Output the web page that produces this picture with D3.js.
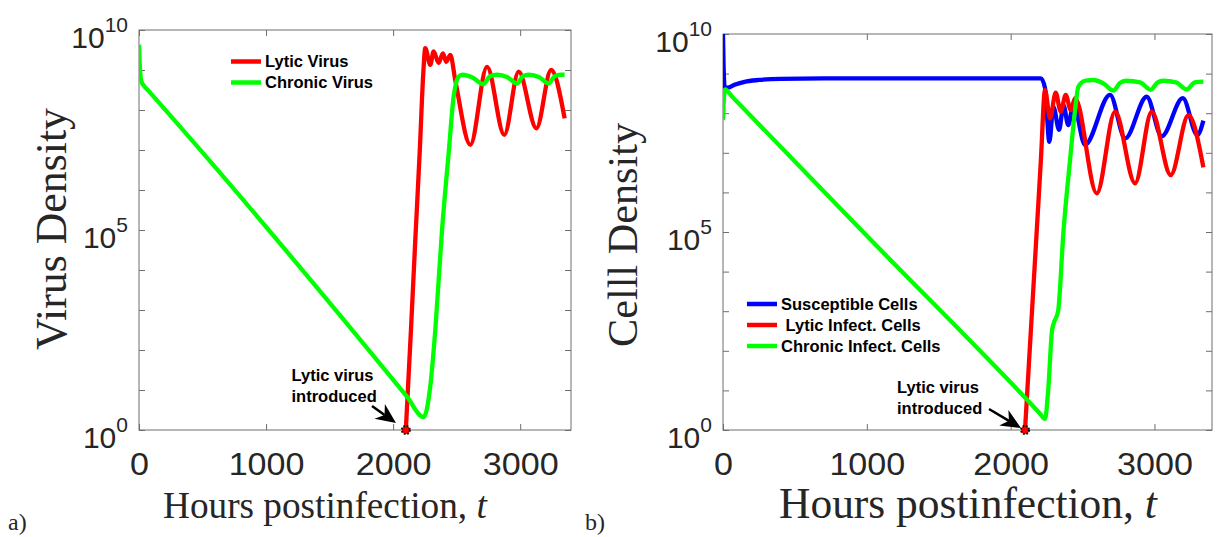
<!DOCTYPE html>
<html>
<head>
<meta charset="utf-8">
<script src="https://cdn.jsdelivr.net/npm/d3@7"></script>
<style>
  body { margin: 0; background: #fff; }
  svg { display: block; }
</style>
</head>
<body>
<svg id="chart" width="1221" height="537"></svg>
<script>
// ---------- data ----------
const xTicks = [0, 1000, 2000, 3000];
const yLabelExponents = [0, 5, 10];
const yDecades = d3.range(0, 11).map(e => Math.pow(10, e));
const introTime = 2100;

// Panel a) virus densities
const lyticVirusT = [2100, 2140, 2175, 2210, 2238, 2253, 2292, 2319, 2358, 2392, 2418, 2450, 2489, 2608, 2739, 2875, 2988, 3128, 3243, 3350];
const lyticVirusV = [1, 3.0e2, 6.0e4, 1.0e7, 9.0e8, 3.5e9, 1.35e9, 2.9e9, 1.5e9, 2.6e9, 1.6e9, 2.4e9, 5.6e8, 1.35e7, 1.2e9, 2.4e7, 9.1e8, 3.5e7, 1.0e9, 6.2e7];
const chronicVirusT = [0, 8, 20, 40, 75, 2109, 2240, 2292, 2332, 2385, 2437, 2476, 2515, 2545, 2620, 2712, 2760, 2818, 2900, 2975, 3020, 3067, 3150, 3224, 3270, 3320, 3350];
const chronicVirusV = [4.3e9, 1.0e9, 5.0e8, 4.0e8, 3.0e8, 6.8, 2.1, 12, 320, 1.0e5, 8.3e6, 2.1e8, 6.8e8, 7.6e8, 6.6e8, 4.4e8, 6.9e8, 7.6e8, 6.6e8, 4.6e8, 6.9e8, 7.6e8, 6.6e8, 4.6e8, 6.9e8, 7.6e8, 7.6e8];

// Panel b) cell densities
const susceptibleT = [0, 4, 12, 30, 80, 150, 250, 400, 700, 2210, 2239, 2269, 2297, 2337, 2367, 2401, 2436, 2517, 2691, 2796, 2946, 3050, 3197, 3298, 3340];
const susceptibleV = [1e10, 1.6e9, 4.5e8, 4.4e8, 5.2e8, 6.2e8, 6.9e8, 7.4e8, 7.6e8, 7.6e8, 4.3e8, 1.9e7, 1.45e8, 3.8e7, 1.6e8, 5.0e7, 1.7e8, 1.6e7, 2.9e8, 2.3e7, 2.6e8, 2.6e7, 2.4e8, 2.8e7, 6.5e7];
const lyticCellsT = [2100, 2140, 2175, 2210, 2239, 2274, 2313, 2348, 2383, 2418, 2448, 2599, 2726, 2865, 2981, 3113, 3236, 3340];
const lyticCellsV = [1, 3.0e2, 4.3e4, 6.3e6, 3.9e8, 7.4e7, 3.3e8, 1.1e8, 2.9e8, 1.2e8, 2.4e8, 9.5e5, 1.1e8, 1.7e6, 1.1e8, 2.75e6, 8.9e7, 4.3e6];
const chronicCellsT = [0, 5, 15, 60, 1000, 2200, 2239, 2260, 2288, 2300, 2330, 2367, 2413, 2448, 2471, 2517, 2575, 2650, 2714, 2760, 2802, 2900, 2974, 3020, 3062, 3150, 3224, 3280, 3340];
const chronicCellsV = [6.8e7, 2.0e8, 4.0e8, 2.7e8, 8.0e4, 2.7, 1.9, 9.0, 3.3e2, 5.0e2, 1.0e3, 1.0e5, 6.6e6, 1.2e8, 4.7e8, 6.6e8, 6.9e8, 5.5e8, 3.7e8, 5.8e8, 6.6e8, 6.0e8, 3.9e8, 5.9e8, 6.6e8, 6.0e8, 4.0e8, 6.0e8, 6.3e8];

// ---------- styles ----------
const SANS = "'Liberation Sans', Arial, Helvetica, sans-serif";
const SERIF = "'Liberation Serif', 'Times New Roman', serif";
const AXIS_GRAY = "#6e6e6e";
const TEXT_DARK = "#262626";
const RED = "#ff0000", GREEN = "#00ff00", BLUE = "#0000ff";

const svg = d3.select("#chart");

const zip = (ts, vs) => ts.map((t, i) => ({ t, v: vs[i] }));

// stretch text horizontally to a given factor of its natural width
function widen(sel, factor) {
  sel.each(function () {
    const w = this.getComputedTextLength();
    d3.select(this).attr("textLength", w * factor).attr("lengthAdjust", "spacingAndGlyphs");
  });
}

// scale a text's font so that its rendered length equals target
function fitLength(sel, target) {
  const node = sel.node();
  const fs = parseFloat(sel.attr("font-size"));
  const w = node.getComputedTextLength();
  sel.attr("font-size", fs * target / w);
}

function drawArrow(g, x1, y1, x2, y2) {
  const dx = x2 - x1, dy = y2 - y1, len = Math.hypot(dx, dy);
  const ux = dx / len, uy = dy / len, px = -uy, py = ux;
  const L = 20, Wd = 9, N = 6;
  const bx = x2 - ux * L, by = y2 - uy * L;
  g.append("line")
    .attr("x1", x1).attr("y1", y1)
    .attr("x2", bx + ux * N).attr("y2", by + uy * N)
    .attr("stroke", "#000").attr("stroke-width", 2.5);
  g.append("path")
    .attr("d", `M${x2},${y2}L${bx + px * Wd},${by + py * Wd}L${bx + ux * N},${by + uy * N}L${bx - px * Wd},${by - py * Wd}Z`)
    .attr("fill", "#000");
}

function drawPanel(cfg) {
  const g = svg.append("g");
  const x = d3.scaleLinear().domain([0, 3400]).range([cfg.left, cfg.right]);
  const y = d3.scaleLog().domain([1, 1e10]).range([cfg.bottom, cfg.top]);

  const clipId = "clip-" + cfg.id;
  g.append("clipPath").attr("id", clipId)
    .append("rect")
    .attr("x", cfg.left).attr("y", cfg.top)
    .attr("width", cfg.right - cfg.left).attr("height", cfg.bottom - cfg.top);

  // inward ticks on all four sides
  const styleAxis = a => {
    a.select(".domain").remove();
    a.selectAll(".tick line").attr("stroke", AXIS_GRAY).attr("stroke-width", 1);
  };
  const bottomAxis = g.append("g")
    .attr("transform", `translate(0,${cfg.bottom})`)
    .call(d3.axisBottom(x).tickValues(xTicks).tickSizeInner(-6).tickSizeOuter(0).tickPadding(cfg.xPad).tickFormat(d3.format("d")))
    .call(styleAxis);
  bottomAxis.selectAll(".tick text")
    .attr("font-family", SANS).attr("font-size", cfg.xFont).attr("fill", TEXT_DARK)
    .call(widen, cfg.xStretch);
  g.append("g")
    .attr("transform", `translate(0,${cfg.top})`)
    .call(d3.axisTop(x).tickValues(xTicks).tickSizeInner(-6).tickSizeOuter(0).tickFormat(""))
    .call(styleAxis);
  g.append("g")
    .attr("transform", `translate(${cfg.left},0)`)
    .call(d3.axisLeft(y).tickValues(yDecades).tickSizeInner(-6).tickSizeOuter(0).tickFormat(""))
    .call(styleAxis);
  g.append("g")
    .attr("transform", `translate(${cfg.right},0)`)
    .call(d3.axisRight(y).tickValues(yDecades).tickSizeInner(-6).tickSizeOuter(0).tickFormat(""))
    .call(styleAxis);

  // box
  g.append("rect")
    .attr("x", cfg.left).attr("y", cfg.top)
    .attr("width", cfg.right - cfg.left).attr("height", cfg.bottom - cfg.top)
    .attr("fill", "none").attr("stroke", AXIS_GRAY).attr("stroke-width", 1);

  // y tick labels 10^e
  yLabelExponents.forEach(e => {
    const t = g.append("text")
      .attr("x", cfg.left - 11)
      .attr("y", y(Math.pow(10, e)) + 18)
      .attr("text-anchor", "end")
      .attr("font-family", SANS)
      .attr("fill", TEXT_DARK);
    t.append("tspan").attr("font-size", 30).text("10");
    t.append("tspan").attr("font-size", 21).attr("dy", -16).text(String(e));
  });

  // axis labels
  const xl = g.append("text")
    .attr("x", cfg.xLabelX).attr("y", cfg.xLabelY)
    .attr("font-family", SERIF).attr("font-size", 37).attr("fill", TEXT_DARK);
  xl.append("tspan").text("Hours postinfection, ");
  xl.append("tspan").attr("font-style", "italic").text("t");
  fitLength(xl, cfg.xLabelW);

  const yl = g.append("text")
    .attr("transform", `translate(${cfg.yLabelX},${cfg.yLabelY}) rotate(-90)`)
    .attr("text-anchor", "middle")
    .attr("font-family", SERIF).attr("font-size", 44).attr("fill", TEXT_DARK)
    .text(cfg.yLabel);
  fitLength(yl, cfg.yLabelW);

  // series
  const line = d3.line().x(d => x(d.t)).y(d => y(d.v)).curve(d3.curveMonotoneX);
  const plot = g.append("g").attr("clip-path", `url(#${clipId})`);
  cfg.series.forEach(s => {
    plot.append("path")
      .datum(zip(s.t, s.v))
      .attr("d", line)
      .attr("fill", "none")
      .attr("stroke", s.color)
      .attr("stroke-width", 4.3)
      .attr("stroke-linejoin", "round");
  });

  // marker where the lytic virus is introduced
  const mx = x(introTime), my = y(1);
  g.append("circle")
    .attr("cx", mx).attr("cy", my).attr("r", 4)
    .attr("fill", RED)
    .attr("stroke", "#000").attr("stroke-width", 2)
    .attr("stroke-dasharray", "1.6,1.6");

  // annotation
  const ann = g.append("text")
    .attr("font-family", SANS).attr("font-weight", "bold").attr("font-size", 16.5).attr("fill", "#000");
  ann.append("tspan").attr("x", cfg.annX).attr("y", cfg.annY).text("Lytic virus");
  ann.append("tspan").attr("x", cfg.annX).attr("y", cfg.annY + 21).text("introduced");
  drawArrow(g, cfg.arrow[0], cfg.arrow[1], cfg.arrow[2], cfg.arrow[3]);

  // legend
  cfg.legend.forEach((item, i) => {
    const ly = cfg.legendY + i * cfg.legendStep;
    g.append("line")
      .attr("x1", cfg.legendX).attr("x2", cfg.legendX + 30)
      .attr("y1", ly).attr("y2", ly)
      .attr("stroke", item.color).attr("stroke-width", 4.5);
    g.append("text")
      .attr("x", cfg.legendX + 34).attr("y", ly + 5.8)
      .attr("font-family", SANS).attr("font-weight", "bold").attr("font-size", 16.5)
      .attr("fill", "#000")
      .style("white-space", "pre")
      .text(item.label);
  });
}

drawPanel({
  id: "a", left: 139, right: 571, top: 30, bottom: 430,
  xPad: 23, xFont: 31, xStretch: 1.1,
  xLabelX: 163, xLabelY: 518, xLabelW: 324,
  yLabel: "Virus Density", yLabelX: 66, yLabelY: 229, yLabelW: 242,
  annX: 291.5, annY: 381, arrow: [372, 406, 396, 423],
  legendX: 231, legendY: 61.5, legendStep: 21,
  legend: [
    { label: "Lytic Virus", color: RED },
    { label: "Chronic Virus", color: GREEN }
  ],
  series: [
    { t: lyticVirusT, v: lyticVirusV, color: RED },
    { t: chronicVirusT, v: chronicVirusV, color: GREEN }
  ]
});

drawPanel({
  id: "b", left: 723, right: 1212, top: 34, bottom: 430,
  xPad: 23, xFont: 31, xStretch: 1.1,
  xLabelX: 779, xLabelY: 518, xLabelW: 378,
  yLabel: "Celll Density", yLabelX: 637, yLabelY: 235, yLabelW: 224,
  annX: 897, annY: 393, arrow: [989, 409, 1021, 428],
  legendX: 747, legendY: 304, legendStep: 21,
  legend: [
    { label: "Susceptible Cells", color: BLUE },
    { label: " Lytic Infect. Cells", color: RED },
    { label: "Chronic Infect. Cells", color: GREEN }
  ],
  series: [
    { t: susceptibleT, v: susceptibleV, color: BLUE },
    { t: lyticCellsT, v: lyticCellsV, color: RED },
    { t: chronicCellsT, v: chronicCellsV, color: GREEN }
  ]
});

// panel tags
svg.append("text").attr("x", 8).attr("y", 530)
  .attr("font-family", SERIF).attr("font-size", 24).attr("fill", TEXT_DARK).text("a)");
svg.append("text").attr("x", 585).attr("y", 530)
  .attr("font-family", SERIF).attr("font-size", 24).attr("fill", TEXT_DARK).text("b)");
</script>
</body>
</html>
